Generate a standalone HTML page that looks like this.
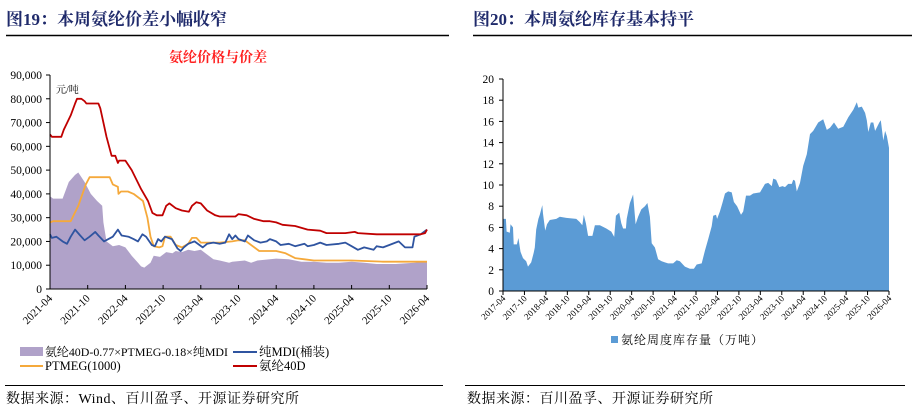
<!DOCTYPE html>
<html><head><meta charset="utf-8">
<style>
html,body{margin:0;padding:0;background:#fff;}
body{width:915px;height:420px;position:relative;overflow:hidden;font-family:"Liberation Serif","Noto Serif CJK SC",serif;}
svg{position:absolute;left:0;top:0;}
</style></head>
<body>
<svg id="s" width="915" height="420" xmlns="http://www.w3.org/2000/svg">
<text x="6" y="25" font-size="17" font-weight="bold" fill="#1f2a6b" font-family="Liberation Serif,Noto Serif CJK SC,serif">图19：本周氨纶价差小幅收窄</text>
<line x1="6" y1="35.5" x2="449" y2="35.5" stroke="#000" stroke-width="1.5"/>
<text x="473" y="25" font-size="17" font-weight="bold" fill="#1f2a6b" font-family="Liberation Serif,Noto Serif CJK SC,serif">图20：本周氨纶库存基本持平</text>
<line x1="473" y1="35.5" x2="912" y2="35.5" stroke="#000" stroke-width="1.5"/>
<text x="218" y="62" text-anchor="middle" font-size="14" font-weight="bold" fill="#ff2020" font-family="Liberation Serif,Noto Serif CJK SC,serif">氨纶价格与价差</text>
<text x="56" y="93" font-size="10" fill="#000" font-family="Liberation Serif,Noto Serif CJK SC,serif">元/吨</text>
<g id="L"></g><g id="R"></g>
<!-- left legend -->
<rect x="20" y="347" width="23" height="9" fill="#b0a2c9"/>
<text x="45" y="356" font-size="12" textLength="183" lengthAdjust="spacingAndGlyphs">氨纶40D-0.77×PTMEG-0.18×纯MDI</text>
<line x1="233" y1="352" x2="257" y2="352" stroke="#2f54a0" stroke-width="2"/>
<text x="259" y="356" font-size="12.5">纯MDI(桶装)</text>
<line x1="20" y1="366" x2="43" y2="366" stroke="#f5a93b" stroke-width="2"/>
<text x="45" y="370" font-size="12.5">PTMEG(1000)</text>
<line x1="233" y1="366" x2="257" y2="366" stroke="#c00000" stroke-width="2"/>
<text x="259" y="370" font-size="12.5">氨纶40D</text>
<!-- right legend -->
<rect x="611" y="336" width="7" height="7" fill="#5b9bd5"/>
<text x="621" y="344" font-size="12" letter-spacing="1">氨纶周度库存量（万吨）</text>
<line x1="5" y1="385.5" x2="443" y2="385.5" stroke="#000" stroke-width="1"/>
<text x="6" y="403" font-size="14" letter-spacing="0.5">数据来源：Wind、百川盈孚、开源证券研究所</text>
<line x1="465" y1="385.5" x2="905" y2="385.5" stroke="#000" stroke-width="1"/>
<text x="467" y="403" font-size="14" letter-spacing="0.5">数据来源：百川盈孚、开源证券研究所</text>
</svg>
<script>
// ---- Left chart data (month index from 2021-04) ----
var leftXTicks=["2021-04","2021-10","2022-04","2022-10","2023-04","2023-10","2024-04","2024-10","2025-04","2025-10","2026-04"];
var leftYTicks=[0,10000,20000,30000,40000,50000,60000,70000,80000,90000];
var spandexM=[0,0.3,1.8,2.2,3.3,4,4.3,5,5.5,5.8,7.7,8,9,9.8,10.4,10.8,11,12,13,14.5,15.6,16.3,17,17.9,18.5,19,20,21,22.1,22.6,23.3,24,25,26.3,27,29.5,30,31.3,32.5,34,35,36,37,39,41,43,44,47,48.5,49,52,59,59.7,60];
var spandexV=[65000,64000,64000,67000,73000,78000,80000,80000,79000,78000,78000,76000,64000,56000,56000,53000,54000,54000,50000,42000,37000,32000,31000,31000,35000,36000,34000,33000,32500,35000,36500,36000,33000,31000,30500,30500,31500,31000,29500,28500,28500,28000,27000,26500,25000,24500,23500,23500,24000,23500,23000,23000,23500,25000];
var ptmegM=[0,0.5,3.3,4.5,5.7,6.3,9.5,10,10.8,10.9,11.3,12.4,13.3,14.8,15.5,16,16.5,17.4,17.9,18.3,19.2,20,21,22,22.6,23.3,24,27,29,30,31,32,33.3,36,37.5,39,40.5,42,48,53,60];
var ptmegV=[28000,28500,28500,35000,44000,47000,47000,44000,43000,40000,41000,41000,40000,37000,30000,22000,18000,17500,18000,22000,22000,18500,17500,19000,21500,21500,19500,19500,20000,20500,20500,18500,16000,16000,15000,13000,12500,12000,12000,11500,11500];
var mdiM=[0,0.3,1,2,2.7,3.3,4,4.8,5.5,6.3,7.2,7.7,8.6,9.3,10,10.8,11.4,12.5,13.3,14,14.7,15.3,16.2,16.7,17.2,17.7,18.3,19.4,20.3,20.8,21.3,22,23,24.3,25,26,27,27.9,28.5,29,29.5,30,31,31.5,32.5,33.5,34.5,35,36,36.7,38,39,40.5,41,42,43,44,46,47,48,49,50,51.5,52,53,54,55.5,56.5,57.7,58,59,60];
var mdiV=[23000,21500,22000,20000,19000,22000,25000,22500,20500,22000,24000,22500,20000,21000,22000,25000,22500,22000,21000,20000,23000,22000,18500,18000,21000,20000,22000,21000,17000,16000,17500,19000,20000,17500,19000,19500,19000,19500,23000,21000,22500,21000,20000,22500,20500,19500,20000,21000,20000,18500,19000,18000,19000,18000,18500,19500,18500,19000,19500,18000,16500,17500,16500,18000,17500,18500,20000,17500,17500,22000,23000,25000];
var spreadM=[0,0.5,2,3,4,4.5,5.5,6.5,7.5,8.3,8.5,9,10,11,12,13,14,14.5,15,16,16.5,17.5,18.5,19.5,20,21,22,23,24,25,26,27,28.5,29,31,32,33,35,36,38,40,42,44,46,48,50,52,55,58,59.5,60];
var spreadV=[39000,38000,38000,45000,48000,49000,45000,40000,37000,35000,28000,20000,18000,18500,17500,14000,11000,9500,9000,11000,14000,13500,15500,15000,16000,15500,16500,16000,16500,14500,12500,12000,11000,11500,12000,11000,12000,12500,12800,12500,11500,11500,11000,11000,11500,11000,10500,10500,11000,11500,11500];
// ---- Right chart data (month index from 2017-04) ----
var rightXTicks=["2017-04","2017-10","2018-04","2018-10","2019-04","2019-10","2020-04","2020-10","2021-04","2021-10","2022-04","2022-10","2023-04","2023-10","2024-04","2024-10","2025-04","2025-10","2026-04"];
var rightYTicks=[0,2,4,6,8,10,12,14,16,18,20];
var invM=[0,0.5,0.8,1,1.9,2.1,2.8,3,3.9,4.3,4.9,5.6,6.5,7,7.9,8.6,8.9,9.3,9.9,10.3,11,11.2,11.8,12.3,13.1,14.9,15.9,17.7,20.5,21.5,22.2,22.6,23.2,23.8,25,25.7,27.1,28.9,30.3,31.1,31.6,32.5,33.1,33.6,34.4,34.6,35.5,36.4,37.1,37.8,38.7,39.7,40.4,41.1,41.6,42.5,43.4,44.4,45.3,46.2,47.6,48.6,49.5,50.9,52.3,53.4,54.2,55.6,56.5,57.4,58.4,58.8,59.6,59.9,60.7,61.4,62.1,63,64,64.6,65.5,66.6,67.2,68,69.1,70,71.9,73.3,74.2,75.2,75.6,76.4,77.3,78.2,78.9,79.8,80.8,81.2,81.7,82.2,83.1,84,85,85.9,86.8,88.2,89.6,90.6,91.5,92.6,93.8,95.2,96.6,98,99,99.4,100.4,101.3,101.8,102.2,102.9,103.6,104.1,105.3,105.7,106.4,106.9,107.4,108];
var invV=[6.8,6.8,6.8,5.6,5.5,6.3,6,4.4,4.4,5,3.7,3.1,2.8,2.3,2.7,3.6,4.1,5.8,6.8,7.2,8.1,7.3,5.7,6.3,6.7,6.8,7,6.9,6.8,6.5,6.2,7.2,6.4,5.2,5.2,6.2,6.2,5.9,5.6,5.1,7.1,7.4,6.4,5.9,5.9,6.8,8.3,9.1,6.3,7,7.7,8,8.3,7,4.5,4.1,3,2.8,2.7,2.6,2.6,2.9,2.8,2.3,2.1,2.1,2.5,2.6,3.8,4.9,6.1,7.1,7.2,6.8,7.5,8.3,9.2,9.4,9.3,8.4,8,7.2,7.5,9,9,9.2,9.3,10.1,10.2,9.9,10.6,10.5,9.8,9.9,9.8,10.1,10.1,10.5,10.4,9.4,10.2,11.8,12.9,14.8,15.1,15.9,16.2,15.2,15.4,15.9,15.3,15.5,16.4,17.1,17.8,17.3,17.4,16.8,16.1,15,15.9,15.9,15.1,15.9,16.1,14.2,15.1,14.6,13.5];

var NS="http://www.w3.org/2000/svg";
function mk(p,tag,at){var e=document.createElementNS(NS,tag);for(var k in at)e.setAttribute(k,at[k]);p.appendChild(e);return e;}
function pathOf(M,V,x,y){var d="";for(var i=0;i<M.length;i++)d+=(i?"L":"M")+x(M[i]).toFixed(1)+","+y(V[i]).toFixed(1);return d;}

// Left chart axes
var L=document.getElementById("L");
var lx0=50,lx1=427,ly0=289,ly1=75;
function lx(m){return lx0+(lx1-lx0)*m/60;}
function ly(v){return ly0-(ly0-ly1)*v/90000;}
var a=mk(L,"path",{d:pathOf(spreadM,spreadV,lx,ly)+"L"+lx(60)+","+ly0+"L"+lx(0)+","+ly0+"Z",fill:"#b0a2c9"});


var series=[[ptmegM,ptmegV,"#f5a93b","ptmeg-line"],[mdiM,mdiV,"#2f54a0","mdi-line"],[spandexM,spandexV,"#c00000","spandex-line"]];
series.forEach(function(s){var p=mk(L,"path",{d:pathOf(s[0],s[1],lx,ly),fill:"none",stroke:s[2],"stroke-width":1.8,"stroke-linejoin":"round"});

});
var ax=mk(L,"path",{d:"M"+lx0+","+ly1+"V"+ly0+"H"+lx1,fill:"none",stroke:"#000","stroke-width":1});


leftYTicks.forEach(function(v){var t=mk(L,"text",{x:42,y:ly(v)+4,"text-anchor":"end","font-size":11.5});t.textContent=v.toLocaleString("en-US");


mk(L,"line",{x1:lx0-4,x2:lx0,y1:ly(v),y2:ly(v),stroke:"#000"});});
leftXTicks.forEach(function(s,i){var x=lx(i*6);mk(L,"line",{x1:x,x2:x,y1:ly0,y2:ly0-4,stroke:"#000"});
var t=mk(L,"text",{x:x+3,y:ly0+10,"text-anchor":"end","font-size":11,transform:"rotate(-45 "+(x+3)+" "+(ly0+10)+")"});t.textContent=s;

});

// Right chart axes
var R=document.getElementById("R");
var rx0=503,rx1=889,ry0=291,ry1=79;
function rx(m){return rx0+(rx1-rx0)*m/108;}
function ry(v){return ry0-(ry0-ry1)*v/20;}
var ra=mk(R,"path",{d:pathOf(invM,invV,rx,ry)+"L"+rx(108)+","+ry0+"L"+rx(0)+","+ry0+"Z",fill:"#5b9bd5"});


var rax=mk(R,"path",{d:"M"+rx0+","+ry1+"V"+ry0+"H"+rx1,fill:"none",stroke:"#000","stroke-width":1});


rightYTicks.forEach(function(v){var t=mk(R,"text",{x:494,y:ry(v)+4,"text-anchor":"end","font-size":11.5});t.textContent=v;


mk(R,"line",{x1:rx0-4,x2:rx0,y1:ry(v),y2:ry(v),stroke:"#000"});});
rightXTicks.forEach(function(s,i){var x=rx(i*6);mk(R,"line",{x1:x,x2:x,y1:ry0,y2:ry0+4,stroke:"#000"});
var t=mk(R,"text",{x:x+3,y:ry0+8,"text-anchor":"end","font-size":9,transform:"rotate(-45 "+(x+3)+" "+(ry0+8)+")"});t.textContent=s;

});
</script>
</body></html>
